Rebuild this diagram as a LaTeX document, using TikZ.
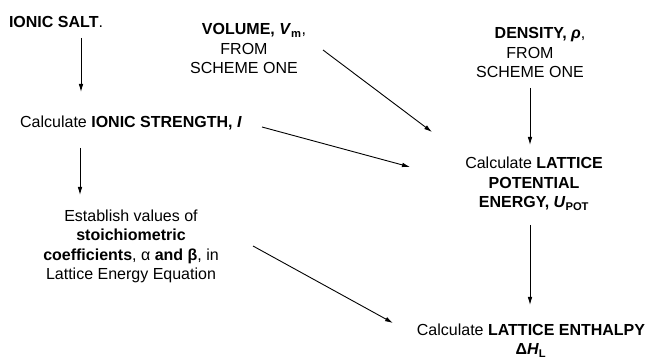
\documentclass[tikz,border=0pt]{standalone}
\usepackage{fontspec}
\setmainfont{Liberation Sans}
\usetikzlibrary{arrows.meta,calc}
\tikzset{
  txt/.style={inner sep=0pt, outer sep=0pt, align=center, text=black,
    font=\fontsize{16}{19.5}\selectfont},
  arr/.style={draw=black, line width=0.9pt, -{Latex[length=8pt,width=4.6pt]}}
}
\begin{document}
\begin{tikzpicture}[x=1pt,y=-1pt]
\useasboundingbox (0,0) rectangle (653,363);
\node[txt] (salt) at (56,22) {\textbf{IONIC SALT}.};
\node[txt] (vol) at (244,48.5) {\hspace*{20pt}\textbf{VOLUME, \textit{V}\textsubscript{m}},\\FROM\\SCHEME ONE};
\node[txt] (dens) at (530,52.5) {\hspace*{20pt}\textbf{DENSITY, \textit{ρ}},\\FROM\\SCHEME ONE};
\node[txt] (ionic) at (131,122.5) {Calculate \textbf{IONIC STRENGTH, \textit{I}}};
\node[txt] (est) at (131,246.5) {Establish values of\\\textbf{stoichiometric}\\\textbf{coefficients}, α \textbf{and β}, in\\Lattice Energy Equation};
\node[txt] (lat) at (534,184) {Calculate \textbf{LATTICE}\\\textbf{POTENTIAL}\\\textbf{ENERGY, \textit{U}\textsubscript{POT}}};
\node[txt] (enth) at (531,340.5) {Calculate \textbf{LATTICE ENTHALPY}\\\textbf{Δ\textit{H}\textsubscript{L}}};
\draw[arr] ($(salt.center)+(25,16)$) -- ($(ionic.center)+(-50,-30.5)$);
\draw[arr] ($(ionic.center)+(-51,25.5)$) -- ($(est.center)+(-51,-51.5)$);
\draw[arr] ($(vol.center)+(79,1.5)$) -- ($(lat.center)+(-102,-52)$);
\draw[arr] ($(ionic.center)+(131,4.5)$) -- ($(lat.center)+(-124,-17)$);
\draw[arr] ($(dens.center)+(0,35.5)$) -- ($(lat.center)+(-4,-39)$);
\draw[arr] ($(lat.center)+(-4,41)$) -- ($(enth.center)+(-1,-35.5)$);
\draw[arr] ($(est.center)+(122,-0.5)$) -- ($(enth.center)+(-138,-17.5)$);
\end{tikzpicture}
\end{document}
